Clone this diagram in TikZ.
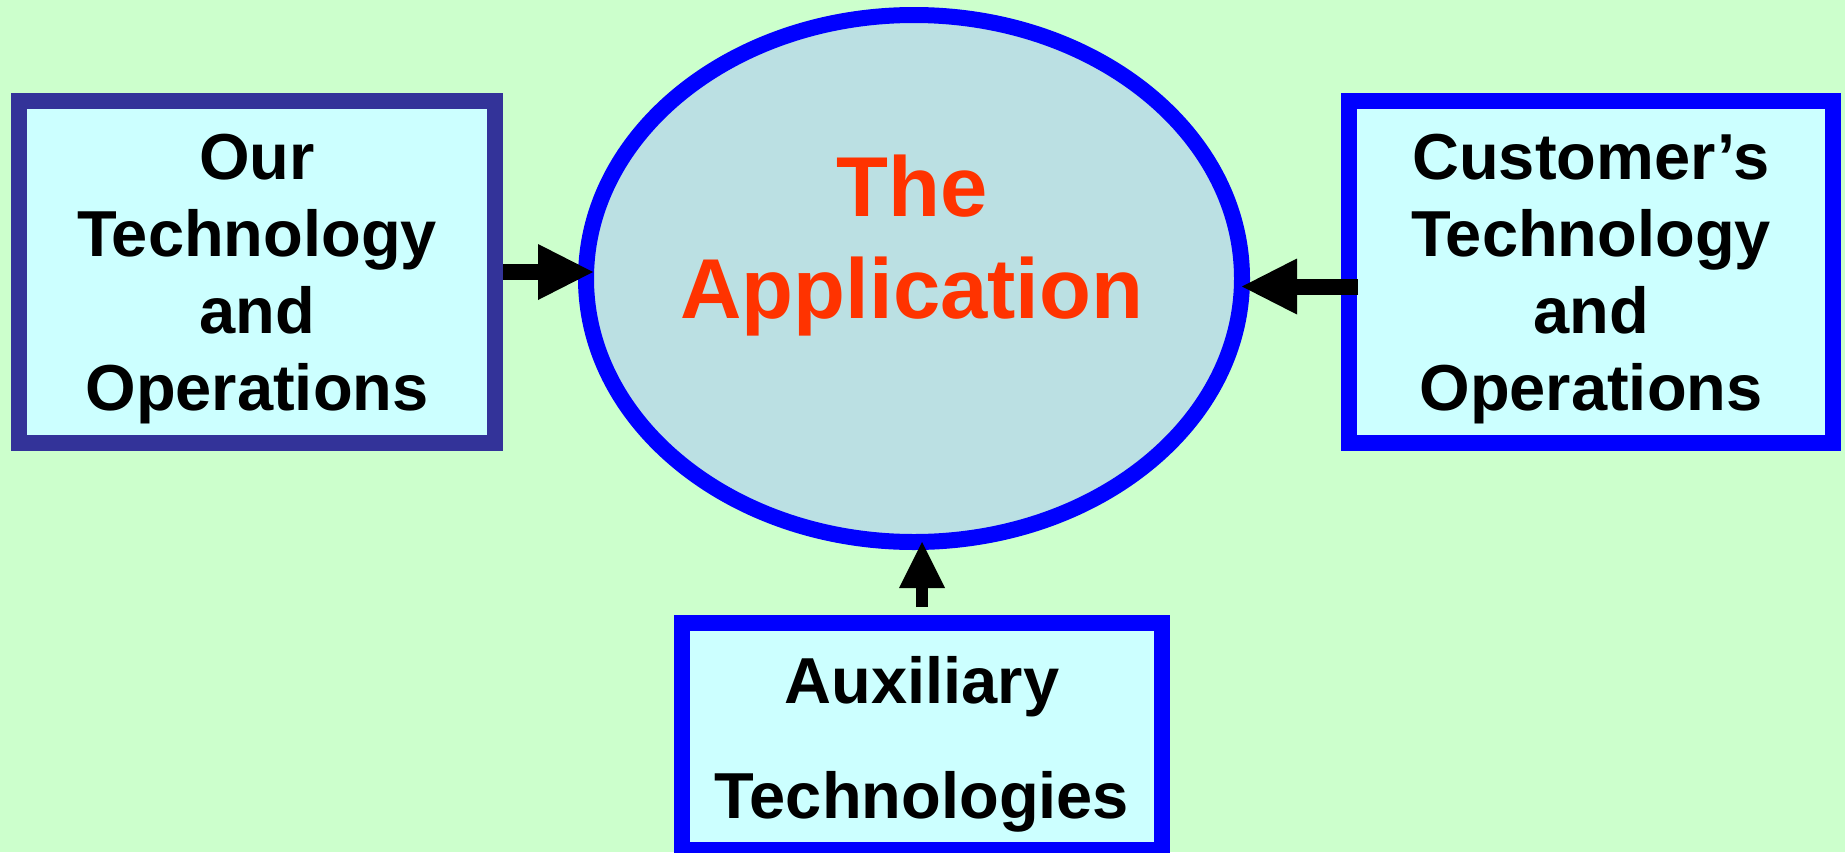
\documentclass[tikz,border=0pt]{standalone}
\usepackage{fontspec}
\setmainfont{Liberation Sans}
\usetikzlibrary{arrows.meta,shapes.geometric}
\definecolor{bg}{HTML}{CCFFCC}
\definecolor{boxfill}{HTML}{CCFFFF}
\definecolor{navyline}{HTML}{333399}
\definecolor{blueline}{HTML}{0000FF}
\definecolor{appfill}{HTML}{BBE0E3}
\definecolor{apptext}{HTML}{FF3300}
\tikzset{
  box/.style={draw=blueline, fill=boxfill, line width=16pt, rectangle, inner sep=0pt},
  boxtext/.style={align=center, inner sep=0pt, font=\bfseries\fontsize{65}{77}\selectfont},
  flow/.style={line width=16pt, draw=black, -{Triangle[length=55pt,width=56pt,line width=0pt]}},
}
\begin{document}
\begin{tikzpicture}[x=1pt,y=-1pt]
\useasboundingbox (0,0) rectangle (1845,852);
\fill[bg] (0,0) rectangle (1845,852);

\node[box, draw=navyline, line width=16pt, minimum width=476.5pt, minimum height=342pt] (lbox) at (256.75,272) {};
\node[box, minimum width=484pt, minimum height=342pt] (rbox) at (1591,272) {};
\node[box, minimum width=480pt, minimum height=227pt] (bbox) at (922,736.5) {};
\node[ellipse, draw=blueline, fill=appfill, line width=16pt, inner sep=0pt, outer sep=0pt,
      minimum width=656pt, minimum height=527pt] (app) at (914,278.5) {};

\node[boxtext] (ltext) at (257,279) {Our\\Technology\\and\\Operations};
\node[boxtext] (rtext) at (1591,279) {Customer’s\\Technology\\and\\Operations};
\node[boxtext, font=\bfseries\fontsize{65}{115}\selectfont] (btext) at (922,744) {Auxiliary\\Technologies};
\node[align=center, inner sep=0pt, text=apptext, font=\bfseries\fontsize{85}{102}\selectfont] (atext) at (912,245.5) {The\\Application};

\path (lbox.east -| app.west) ++(7,0) coordinate (le);
\draw[flow] (lbox.east) -- (le);
\coordinate (rs) at ([xshift=17pt,yshift=-14.5pt]rbox.west);
\draw[flow] (rs) -- (rs -| app.east);
\coordinate (bs) at ([yshift=8pt]bbox.north);
\draw[flow, line width=12pt, -{Triangle[length=46pt,width=46pt,line width=0pt]}] (bs) -- (bs |- app.south);
\end{tikzpicture}
\end{document}
